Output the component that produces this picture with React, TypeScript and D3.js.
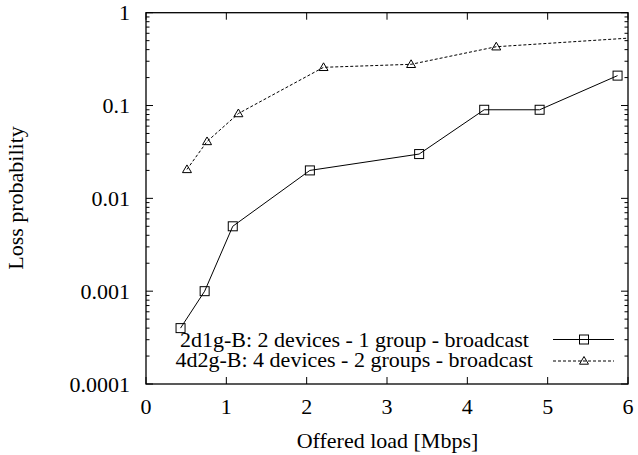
import React from "react";
import * as d3 from "d3";

const xTicks = [0, 1, 2, 3, 4, 5, 6];
const yTicks = [0.0001, 0.001, 0.01, 0.1, 1];
const yTickLabels = ["0.0001", "0.001", "0.01", "0.1", "1"];

const s1Name = "2d1g-B: 2 devices - 1 group - broadcast";
const s1X = [0.43, 0.73, 1.08, 2.04, 3.4, 4.21, 4.9, 5.87];
const s1Y = [0.0004, 0.001, 0.005, 0.02, 0.03, 0.09, 0.09, 0.21];

const s2Name = "4d2g-B: 4 devices - 2 groups - broadcast";
const s2X = [0.51, 0.76, 1.15, 2.21, 3.3, 4.36, 6.4];
const s2Y = [0.0205, 0.041, 0.082, 0.258, 0.278, 0.43, 0.56];

const W = 638;
const H = 455;
const M = { left: 146, right: 628, top: 12.7, bottom: 384 };
const FONT = "'Liberation Serif', 'DejaVu Serif', serif";
const FS = 22;

export default function App() {
  const x = d3.scaleLinear().domain([0, 6]).range([M.left, M.right]);
  const y = d3.scaleLog().domain([0.0001, 1]).range([M.bottom, M.top]);

  const d1 = s1X.map((v, i) => [v, s1Y[i]] as [number, number]);
  const d2 = s2X.map((v, i) => [v, s2Y[i]] as [number, number]);
  const line = d3
    .line<[number, number]>()
    .x((d) => x(d[0]))
    .y((d) => y(d[1]));

  const minor: number[] = [];
  for (let e = -4; e < 0; e++) {
    for (let k = 2; k <= 9; k++) minor.push(k * Math.pow(10, e));
  }

  const sq = (cx: number, cy: number, key: any) => (
    <rect key={key} x={cx - 4.5} y={cy - 4.5} width={9} height={9} fill="none" stroke="#000" strokeWidth={1} />
  );
  const tri = (cx: number, cy: number, key: any) => (
    <path
      key={key}
      d={`M${cx},${cy - 4.5}L${cx + 4.5},${cy + 3.2}L${cx - 4.5},${cy + 3.2}Z`}
      fill="none"
      stroke="#000"
      strokeWidth={1}
    />
  );

  const legY1 = 339.5;
  const legY2 = 361;

  return (
    <svg width={W} height={H} style={{ position: "absolute", left: 0, top: 0, background: "#fff" }}>
      <defs>
        <clipPath id="plotclip">
          <rect x={M.left} y={M.top} width={M.right - M.left} height={M.bottom - M.top} />
        </clipPath>
      </defs>
      <rect x={0} y={0} width={W} height={H} fill="#fff" />
      {/* ticks */}
      {xTicks.map((t) => (
        <g key={"xt" + t}>
          <line x1={x(t)} x2={x(t)} y1={M.bottom} y2={M.bottom - 7} stroke="#000" />
          <line x1={x(t)} x2={x(t)} y1={M.top} y2={M.top + 7} stroke="#000" />
          <text x={x(t)} y={413.5} textAnchor="middle" fontFamily={FONT} fontSize={FS}>
            {t}
          </text>
        </g>
      ))}
      {yTicks.map((t, i) => (
        <g key={"yt" + t}>
          <line x1={M.left} x2={M.left + 7} y1={y(t)} y2={y(t)} stroke="#000" />
          <line x1={M.right} x2={M.right - 7} y1={y(t)} y2={y(t)} stroke="#000" />
          <text x={130} y={y(t) + 7.5} textAnchor="end" fontFamily={FONT} fontSize={FS}>
            {yTickLabels[i]}
          </text>
        </g>
      ))}
      {minor.map((t, i) => (
        <g key={"ym" + i}>
          <line x1={M.left} x2={M.left + 3.5} y1={y(t)} y2={y(t)} stroke="#000" />
          <line x1={M.right} x2={M.right - 3.5} y1={y(t)} y2={y(t)} stroke="#000" />
        </g>
      ))}
      <rect
        x={M.left}
        y={M.top}
        width={M.right - M.left}
        height={M.bottom - M.top}
        fill="none"
        stroke="#000"
        strokeWidth={1.3}
      />
      {/* series */}
      <g clipPath="url(#plotclip)">
        <path d={line(d1) || ""} fill="none" stroke="#000" strokeWidth={1} />
        <path d={line(d2) || ""} fill="none" stroke="#000" strokeWidth={1} strokeDasharray="3,2" />
        {d1.map((d, i) => sq(x(d[0]), y(d[1]), "s" + i))}
        {d2.map((d, i) => tri(x(d[0]), y(d[1]), "t" + i))}
      </g>
      {/* legend */}
      <text x={180} y={346.7} fontFamily={FONT} fontSize={FS}>
        {s1Name}
      </text>
      <line x1={553} x2={614} y1={legY1} y2={legY1} stroke="#000" />
      {sq(584, legY1, "ls")}
      <text x={175.5} y={366.7} fontFamily={FONT} fontSize={FS}>
        {s2Name}
      </text>
      <line x1={553} x2={614} y1={legY2} y2={legY2} stroke="#000" strokeDasharray="3,2" />
      {tri(584, legY2, "lt")}
      {/* axis titles */}
      <text x={387.5} y={448} textAnchor="middle" fontFamily={FONT} fontSize={FS}>
        Offered load [Mbps]
      </text>
      <text
        transform={`translate(23,198) rotate(-90)`}
        textAnchor="middle"
        fontFamily={FONT}
        fontSize={FS}
      >
        Loss probability
      </text>
    </svg>
  );
}
